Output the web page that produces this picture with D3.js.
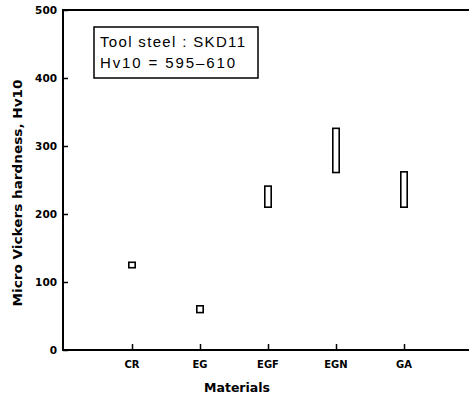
<!DOCTYPE html>
<html><head><meta charset="utf-8">
<script src="https://cdn.jsdelivr.net/npm/d3@7"></script>
<style>body{margin:0;background:#fff}svg{display:block}</style>
</head><body>
<script>
const categories = ["CR", "EG", "EGF", "EGN", "GA"];
const lowValues  = [121, 55, 210, 261, 210];
const highValues = [129, 65, 241, 326, 262];
const yTicks = [0, 100, 200, 300, 400, 500];
const legendLines = ["Tool steel : SKD11", "Hv10 = 595\u2013610"];

const W = 469, H = 402;
const svg = d3.select("body").append("svg").attr("width", W).attr("height", H);
const font = "DejaVu Sans, sans-serif";
const lfont = "Liberation Sans, Arial, sans-serif";

const xs = d3.scalePoint().domain(categories).range([64, 472]).padding(1);
const y = d3.scaleLinear().domain([0, 500]).range([350, 10]);

// axes lines
svg.append("line").attr("x1", 63).attr("x2", 469).attr("y1", y(0)).attr("y2", y(0)).attr("stroke", "#000").attr("stroke-width", 2);
svg.append("line").attr("x1", 63).attr("x2", 63).attr("y1", y(0) + 1).attr("y2", y(500) - 1).attr("stroke", "#000").attr("stroke-width", 2);
svg.append("line").attr("x1", 63).attr("x2", 469).attr("y1", y(500)).attr("y2", y(500)).attr("stroke", "#000").attr("stroke-width", 2);

// y axis
const yAxis = svg.append("g").attr("transform", "translate(63,0)")
  .call(d3.axisRight(y).tickValues(yTicks).tickSize(5).tickFormat(""));
yAxis.select(".domain").remove();
yAxis.selectAll("line").attr("stroke-width", 1.5);
svg.append("g").selectAll("text").data(yTicks).join("text")
  .attr("x", 57).attr("y", d => y(d) + 4).attr("text-anchor", "end")
  .attr("font-family", font).attr("font-weight", "bold").attr("font-size", 10.5).text(d => d);

// x axis
const xAxis = svg.append("g").attr("transform", `translate(0,${y(0)})`)
  .call(d3.axisTop(xs).tickValues(categories).tickSize(6).tickFormat(""));
xAxis.select(".domain").remove();
xAxis.selectAll("line").attr("stroke-width", 1.5);
svg.append("g").selectAll("text").data(categories).join("text")
  .attr("x", d => xs(d)).attr("y", 368).attr("text-anchor", "middle")
  .attr("font-family", font).attr("font-weight", "bold").attr("font-size", 10).text(d => d);

// boxes
const data = categories.map((c, i) => ({c, lo: lowValues[i], hi: highValues[i]}));
svg.append("g").selectAll("rect").data(data).join("rect")
  .attr("x", d => xs(d.c) - 3.2).attr("width", 6.4)
  .attr("y", d => y(d.hi)).attr("height", d => y(d.lo) - y(d.hi))
  .attr("fill", "none").attr("stroke", "#000").attr("stroke-width", 1.6);

// axis titles
svg.append("text").attr("x", 237).attr("y", 392).attr("text-anchor", "middle")
  .attr("font-family", font).attr("font-weight", "bold").attr("font-size", 12.5).text("Materials");
svg.append("text").attr("transform", "translate(22,193) rotate(-90)").attr("text-anchor", "middle")
  .attr("font-family", font).attr("font-weight", "bold").attr("font-size", 12.5)
  .attr("textLength", 227).attr("lengthAdjust", "spacingAndGlyphs").text("Micro Vickers hardness, Hv10");

// legend box
svg.append("rect").attr("x", 94).attr("y", 27).attr("width", 164).attr("height", 51)
  .attr("fill", "none").attr("stroke", "#000").attr("stroke-width", 1.5);
const lens = [145, 135];
svg.append("g").selectAll("text").data(legendLines).join("text")
  .attr("x", 100).attr("y", (d, i) => 47 + i * 21)
  .attr("font-family", lfont).attr("font-size", 15)
  .attr("textLength", (d, i) => lens[i]).attr("lengthAdjust", "spacing").text(d => d);
</script>
</body></html>
